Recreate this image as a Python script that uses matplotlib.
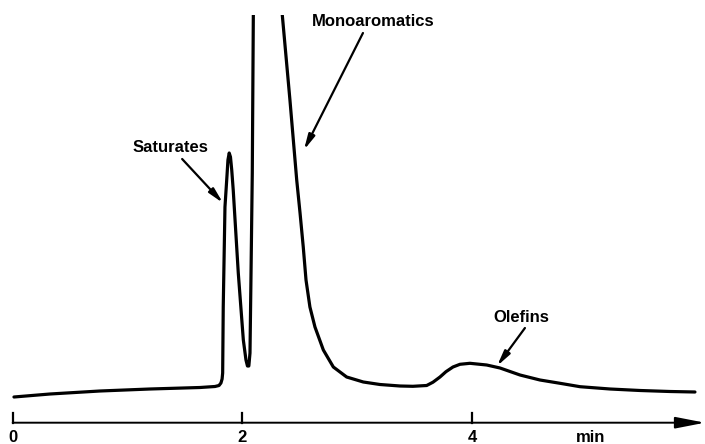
import numpy as np
import matplotlib.pyplot as plt
from matplotlib.patches import Rectangle

## data ##########################################################

# retention time (min) and detector response (arbitrary units)
time_min = [0.011, 0.325, 0.760, 1.196, 1.632, 1.762, 1.797, 1.814, 1.824, 1.829,
            1.834, 1.849, 1.867, 1.875, 1.886, 1.897, 1.908, 1.921, 1.965, 2.009,
            2.032, 2.045, 2.057, 2.067, 2.076, 2.087, 2.096, 2.206, 2.346, 2.415,
            2.474, 2.503, 2.531, 2.555, 2.589, 2.633, 2.706, 2.793, 2.909, 3.054,
            3.199, 3.374, 3.486, 3.606, 3.661, 3.722, 3.774, 3.835, 3.896, 3.983,
            4.129, 4.245, 4.419, 4.593, 4.768, 4.942, 5.203, 5.465, 5.726, 5.943]
response = [0.257, 0.287, 0.317, 0.337, 0.352, 0.362, 0.372, 0.397, 0.437, 0.497,
            1.157, 2.157, 2.477, 2.627, 2.697, 2.657, 2.527, 2.327, 1.497, 0.827,
            0.627, 0.567, 0.567, 0.697, 1.497, 2.497, 4.067, 7.227, 4.107, 3.227,
            2.427, 2.097, 1.757, 1.427, 1.157, 0.957, 0.727, 0.557, 0.457, 0.407,
            0.382, 0.367, 0.364, 0.372, 0.405, 0.457, 0.510, 0.557, 0.584, 0.594,
            0.577, 0.547, 0.477, 0.427, 0.394, 0.360, 0.337, 0.322, 0.312, 0.307]

tick_times = [0, 2, 4]
tick_labels = ['0', '2', '4']

# peak labels: text, label position, arrow tail, arrow tip
peak_names = ['Saturates', 'Monoaromatics', 'Olefins']
label_pos = [(1.370, 2.757), (3.139, 4.017), (4.432, 1.057)]
arrow_start = [(1.476, 2.637), (3.051, 3.897), (4.462, 0.947)]
arrow_tip = [(1.832, 2.197), (2.537, 2.727), (4.219, 0.567)]

## plot ################################

plt.rcParams['font.family'] = ['Liberation Sans', 'DejaVu Sans']

fig = plt.figure(figsize=(7.05, 4.44), dpi=100)
ax = fig.add_axes([0, 0, 1, 1])
ax.set_xlim(-0.1106, 6.0305)
ax.set_ylim(-0.213, 4.227)
ax.set_axis_off()

# the pen went off scale on the big peak
line, = ax.plot(time_min, response, color='black', lw=2.3,
                solid_joinstyle='round', solid_capstyle='round')
clip = Rectangle((-1, -1), 10, 5.08, transform=ax.transData)
line.set_clip_path(clip)

# time axis with arrow
ax.annotate('', xy=(6.03, 0), xytext=(0, 0),
            arrowprops=dict(arrowstyle='-|>,head_length=1.8,head_width=0.35',
                            lw=1.4, color='black', shrinkA=0, shrinkB=0))
for t, lab in zip(tick_times, tick_labels):
    ax.plot([t, t], [0, 0.10], color='black', lw=1.6)
    ax.text(t, -0.143, lab, ha='center', va='center', fontsize=12, fontweight='bold')
ax.text(5.037, -0.143, 'min', ha='center', va='center', fontsize=12, fontweight='bold')

# peak annotations
for name, pos, a0, a1 in zip(peak_names, label_pos, arrow_start, arrow_tip):
    ax.text(pos[0], pos[1], name, ha='center', va='center', fontsize=12, fontweight='bold')
    ax.annotate('', xy=a1, xytext=a0,
                arrowprops=dict(arrowstyle='-|>,head_length=0.9,head_width=0.2',
                                lw=1.6, color='black', shrinkA=0, shrinkB=0))

fig.savefig('out.png', dpi=100)
